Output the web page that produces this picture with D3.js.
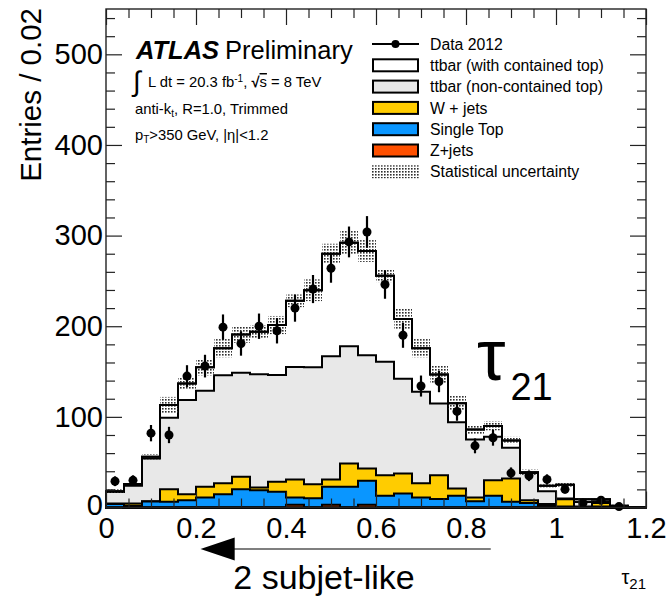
<!DOCTYPE html>
<html>
<head>
<meta charset="utf-8">
<script src="https://cdn.jsdelivr.net/npm/d3@7"></script>
<style>
  body { margin: 0; background: #fff; }
  svg { display: block; }
  text { font-family: "Liberation Sans", Arial, Helvetica, sans-serif; fill: #000; }
</style>
</head>
<body>
<svg id="chart" width="667" height="597"></svg>
<script>

/////////////////////////////////////////////////////////////////////////////
                      ///////    Data    ///////
/////////////////////////////////////////////////////////////////////////////

// lower edge of each tau21 bin (bin width 0.04)
var binLow = [0.00, 0.04, 0.08, 0.12, 0.16, 0.20, 0.24, 0.28, 0.32, 0.36,
              0.40, 0.44, 0.48, 0.52, 0.56, 0.60, 0.64, 0.68, 0.72, 0.76,
              0.80, 0.84, 0.88, 0.92, 0.96, 1.00, 1.04, 1.08, 1.12, 1.16];
var binWidth = 0.04;

var dataVals = [29, 30, 82, 80, 145, 156, 199, 181, 200, 195,
                220, 241, 264, 293, 304, 246, 190, 134, 139, 106,
                68, 77, 38, 35, 31, 20, 5, 8, 1, null];
var dataErr  = [5.4, 5.5, 9, 9, 12, 12.5, 14, 13.5, 14, 14,
                15, 15.5, 16, 17, 17.5, 15.7, 13.8, 11.6, 11.8, 10.3,
                8.2, 8.8, 6.2, 5.9, 5.6, 4.5, 2.2, 2.8, 1, 0];

var ttContained    = [1, 2, 2, 14, 18, 26, 30, 42, 47, 55,
                      73, 85, 113, 114, 115, 95, 66, 48, 32, 21,
                      11, 12, 8, 1, 6, 15, 3, 2, 1, 0.2];
var ttNonContained = [12.5, 19.6, 47, 79, 104, 106, 119, 115, 125, 118,
                      124, 129, 136, 129.5, 125, 125, 104.5, 101, 79, 73,
                      64, 48, 34, 30, 14, 1, 5, 2, 0.5, 0.3];
var wJets          = [0.5, 2.4, 0.5, 13.7, 6.7, 11.8, 12.1, 13.8, 3, 11,
                      20, 15.4, 8, 25.7, 13.6, 22.8, 22.1, 15.8, 26.2, 8.1,
                      4, 17.1, 25.7, 3, 2, 8, 0.5, 4, 0.3, 0];
var singleTop      = [4, 2, 6.5, 6.3, 8, 11, 14.7, 20, 19, 17.3,
                      8, 10.3, 20, 22.8, 26.4, 12.9, 15.4, 11, 9.5, 12.9,
                      7, 12.9, 6.3, 5, 2, 1, 0.5, 1, 0.2, 0];
var zJets          = [0, 0, 0, 0, 0, 0, 0, 0, 0, 0,
                      3, 0, 3, 0, 3, 0, 0, 0, 0, 0,
                      0, 0, 0, 0, 0, 0, 0, 0, 0, 0];
var statErr        = [2, 2, 3, 9, 7, 9, 10, 9, 7, 10,
                      7, 12, 11, 13, 12, 7, 12, 10, 10, 8,
                      5, 5, 4, 3, 2, 2, 2, 2, 1, 0.5];

var xMajor = [0, 0.2, 0.4, 0.6, 0.8, 1, 1.2];
var xMinor = [0.05, 0.1, 0.15, 0.25, 0.3, 0.35, 0.45, 0.5, 0.55, 0.65, 0.7, 0.75,
              0.85, 0.9, 0.95, 1.05, 1.1, 1.15];
var yMajor = [0, 100, 200, 300, 400, 500];
var yMinor = [20, 40, 60, 80, 120, 140, 160, 180, 220, 240, 260, 280,
              320, 340, 360, 380, 420, 440, 460, 480, 520, 540];

var stackKeys   = ["zJets", "singleTop", "wJets", "ttNonContained", "ttContained"];
var stackColors = { zJets: "#ff5000", singleTop: "#0a96ff", wJets: "#ffcc00",
                    ttNonContained: "#e8e8e8", ttContained: "#ffffff" };

var legendLabels = ["Data 2012", "ttbar (with contained top)", "ttbar (non-contained top)",
                    "W + jets", "Single Top", "Z+jets", "Statistical uncertainty"];
var legendKinds  = ["data", "ttContained", "ttNonContained", "wJets", "singleTop", "zJets", "stat"];

/////////////////////////////////////////////////////////////////////////////
                      ///////    Setup    ///////
/////////////////////////////////////////////////////////////////////////////

var svg = d3.select("#chart");
var fontFam = '"Liberation Sans", Arial, Helvetica, sans-serif';

var x = d3.scaleLinear().domain([0, 1.2]).range([106, 646]);
var y = d3.scaleLinear().domain([0, 550]).range([507.5, 9]);

var defs = svg.append("defs");
var pat = defs.append("pattern")
    .attr("id", "dots")
    .attr("patternUnits", "userSpaceOnUse")
    .attr("width", 3).attr("height", 3);
pat.append("rect").attr("x", 0).attr("y", 0).attr("width", 1.6).attr("height", 1.6).attr("fill", "#2e2e2e");

var rows = binLow.map(function(b, i) {
    return { zJets: zJets[i], singleTop: singleTop[i], wJets: wJets[i],
             ttNonContained: ttNonContained[i], ttContained: ttContained[i] };
});
var layers = d3.stack().keys(stackKeys)(rows);
var totals = layers[layers.length - 1].map(function(d) { return d[1]; });

/////////////////////////////////////////////////////////////////////////////
                      ///////    Histograms    ///////
/////////////////////////////////////////////////////////////////////////////

var stepArea = d3.area()
    .x(function(d) { return x(d.x); })
    .y0(y(0))
    .y1(function(d) { return y(d.v); })
    .curve(d3.curveStepAfter);

function stepPoints(layer) {
    var pts = layer.map(function(d, i) { return { x: binLow[i], v: d[1] }; });
    pts.push({ x: binLow[binLow.length - 1] + binWidth, v: layer[layer.length - 1][1] });
    return pts;
}

var hist = svg.append("g");
layers.slice().reverse().forEach(function(layer) {
    hist.append("path")
        .attr("d", stepArea(stepPoints(layer)))
        .attr("fill", stackColors[layer.key])
        .attr("stroke", "#000")
        .attr("stroke-width", 2)
        .attr("stroke-linejoin", "miter");
});

// statistical uncertainty band on the total
hist.selectAll(".band")
    .data(totals)
    .enter().append("rect")
    .attr("class", "band")
    .attr("x", function(d, i) { return x(binLow[i]); })
    .attr("width", function(d, i) { return x(binLow[i] + binWidth) - x(binLow[i]); })
    .attr("y", function(d, i) { return y(d + statErr[i]); })
    .attr("height", function(d, i) { return y(Math.max(0, d - statErr[i])) - y(d + statErr[i]); })
    .attr("fill", "url(#dots)");

// total outline again on top of the band
hist.append("path")
    .attr("d", stepArea(stepPoints(layers[layers.length - 1])))
    .attr("fill", "none")
    .attr("stroke", "#000")
    .attr("stroke-width", 2);

/////////////////////////////////////////////////////////////////////////////
                      ///////    Data points    ///////
/////////////////////////////////////////////////////////////////////////////

var pts = binLow.map(function(b, i) {
    return { x: b + binWidth / 2, v: dataVals[i], e: dataErr[i] };
}).filter(function(d) { return d.v !== null; });

var dataG = svg.append("g");
dataG.selectAll("line")
    .data(pts)
    .enter().append("line")
    .attr("x1", function(d) { return x(d.x); })
    .attr("x2", function(d) { return x(d.x); })
    .attr("y1", function(d) { return y(d.v + d.e); })
    .attr("y2", function(d) { return y(Math.max(0, d.v - d.e)); })
    .attr("stroke", "#000")
    .attr("stroke-width", 2.2);
dataG.selectAll("circle")
    .data(pts)
    .enter().append("circle")
    .attr("cx", function(d) { return x(d.x); })
    .attr("cy", function(d) { return y(d.v); })
    .attr("r", 4.5)
    .attr("fill", "#000");

/////////////////////////////////////////////////////////////////////////////
                      ///////    Axes    ///////
/////////////////////////////////////////////////////////////////////////////

function styleAxis(g) {
    g.select(".domain").remove();
    g.selectAll(".tick line").attr("stroke", "#222").attr("stroke-width", 1.2);
    g.selectAll(".tick text")
        .style("font-family", fontFam)
        .style("font-size", "29px")
        .attr("fill", "#000");
}

var fmt = function(d) { return d3.format("")(d); };

svg.append("g").attr("transform", "translate(0," + y(0) + ")")
    .call(d3.axisBottom(x).tickValues(xMajor).tickSize(-16).tickPadding(10).tickFormat(fmt))
    .call(styleAxis);
svg.append("g").attr("transform", "translate(0," + y(0) + ")")
    .call(d3.axisBottom(x).tickValues(xMinor).tickSize(-9).tickFormat(""))
    .call(styleAxis);
svg.append("g").attr("transform", "translate(0," + y(550) + ")")
    .call(d3.axisTop(x).tickValues(xMajor).tickSize(-16).tickFormat(""))
    .call(styleAxis);
svg.append("g").attr("transform", "translate(0," + y(550) + ")")
    .call(d3.axisTop(x).tickValues(xMinor).tickSize(-9).tickFormat(""))
    .call(styleAxis);

var yAxisG = svg.append("g").attr("transform", "translate(" + x(0) + ",0)")
    .call(d3.axisLeft(y).tickValues(yMajor).tickSize(-16).tickPadding(3).tickFormat(fmt))
    .call(styleAxis);
// the zero label sits a touch higher in the frame corner
yAxisG.selectAll(".tick text").filter(function(d) { return d === 0; }).attr("dy", "0.24em");
svg.append("g").attr("transform", "translate(" + x(0) + ",0)")
    .call(d3.axisLeft(y).tickValues(yMinor).tickSize(-9).tickFormat(""))
    .call(styleAxis);
svg.append("g").attr("transform", "translate(" + x(1.2) + ",0)")
    .call(d3.axisRight(y).tickValues(yMajor).tickSize(-16).tickFormat(""))
    .call(styleAxis);
svg.append("g").attr("transform", "translate(" + x(1.2) + ",0)")
    .call(d3.axisRight(y).tickValues(yMinor).tickSize(-9).tickFormat(""))
    .call(styleAxis);

svg.append("rect")
    .attr("x", x(0)).attr("y", y(550))
    .attr("width", x(1.2) - x(0)).attr("height", y(0) - y(550))
    .attr("fill", "none").attr("stroke", "#222").attr("stroke-width", 1.4);

// axis titles
svg.append("text")
    .attr("transform", "translate(41,8) rotate(-90)")
    .attr("text-anchor", "end")
    .style("font-size", "29.5px")
    .text("Entries / 0.02");

var xt = svg.append("text")
    .attr("x", 646).attr("y", 584)
    .attr("text-anchor", "end")
    .style("font-size", "20px");
xt.append("tspan").text("τ");
xt.append("tspan").attr("dy", 5).style("font-size", "15px").text("21");

/////////////////////////////////////////////////////////////////////////////
                      ///////    Labels    ///////
/////////////////////////////////////////////////////////////////////////////

var atlas = svg.append("text").attr("x", 136).attr("y", 59).style("font-size", "25.5px");
atlas.append("tspan").style("font-weight", "bold").style("font-style", "italic").text("ATLAS");
atlas.append("tspan").attr("dx", 6).text("Preliminary");

svg.append("text").attr("x", 133).attr("y", 91).style("font-size", "28px").text("∫");
var lumi = svg.append("text").attr("x", 148).attr("y", 87).style("font-size", "14.8px");
lumi.append("tspan").text("L dt = 20.3 fb");
lumi.append("tspan").attr("dy", -5).style("font-size", "10px").text("-1");
lumi.append("tspan").attr("dy", 5).text(", ");
lumi.append("tspan").style("font-weight", "bold").text("√");
lumi.append("tspan").style("text-decoration", "overline").text("s");
lumi.append("tspan").text(" = 8 TeV");

var algo = svg.append("text").attr("x", 135).attr("y", 114).style("font-size", "14.8px");
algo.append("tspan").text("anti-k");
algo.append("tspan").attr("dy", 3).style("font-size", "10px").text("t");
algo.append("tspan").attr("dy", -3).text(", R=1.0, Trimmed");

var cuts = svg.append("text").attr("x", 135).attr("y", 140).style("font-size", "14.8px");
cuts.append("tspan").text("p");
cuts.append("tspan").attr("dy", 3).style("font-size", "10px").text("T");
cuts.append("tspan").attr("dy", -3).text(">350 GeV, |η|<1.2");

// big tau21 annotation
var big = svg.append("text").attr("x", 477).attr("y", 380).style("font-size", "72px");
big.append("tspan").text("τ");
big.append("tspan").attr("dy", 20).attr("dx", 5).style("font-size", "38px").text("21");

// arrow and "2 subjet-like"
var arrowY = 549;
svg.append("line")
    .attr("x1", x(0.855)).attr("x2", x(0.28))
    .attr("y1", arrowY).attr("y2", arrowY)
    .attr("stroke", "#000").attr("stroke-width", 1.2);
svg.append("path")
    .attr("d", "M" + x(0.21) + "," + arrowY + "L" + x(0.286) + "," + (arrowY - 11.5) + "L" + x(0.286) + "," + (arrowY + 11.5) + "Z")
    .attr("fill", "#000");
svg.append("text")
    .attr("x", 324).attr("y", 589)
    .attr("text-anchor", "middle")
    .style("font-size", "34px")
    .text("2 subjet-like");

/////////////////////////////////////////////////////////////////////////////
                      ///////    Legend    ///////
/////////////////////////////////////////////////////////////////////////////

var legend = svg.append("g");
var rowH = 21.3;
legendLabels.forEach(function(lab, i) {
    var cy = 44 + i * rowH;
    var kind = legendKinds[i];
    if (kind === "data") {
        legend.append("line").attr("x1", 372).attr("x2", 419).attr("y1", cy).attr("y2", cy)
            .attr("stroke", "#000").attr("stroke-width", 2);
        legend.append("circle").attr("cx", 395.5).attr("cy", cy).attr("r", 4).attr("fill", "#000");
    } else if (kind === "stat") {
        legend.append("rect").attr("x", 372).attr("y", cy - 6.5).attr("width", 47).attr("height", 13)
            .attr("fill", "url(#dots)");
    } else {
        legend.append("rect").attr("x", 373).attr("y", cy - 6).attr("width", 45).attr("height", 12)
            .attr("fill", stackColors[kind]).attr("stroke", "#000").attr("stroke-width", 2);
    }
    legend.append("text").attr("x", 430).attr("y", cy + 5.6)
        .style("font-size", "15.8px").text(lab);
});

</script>
</body>
</html>
